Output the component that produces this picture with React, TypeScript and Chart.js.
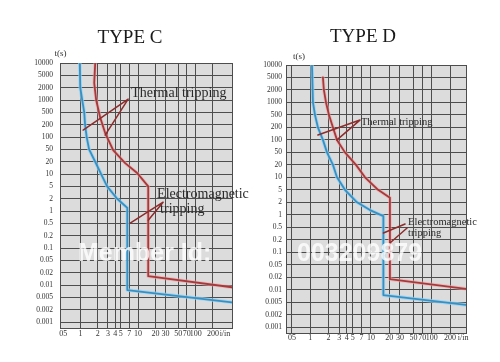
import React, { useEffect, useRef } from "react";
import { Chart, registerables } from "chart.js";

Chart.register(...registerables);

// ---- axis ticks ----
const T_TICKS = [10000, 5000, 2000, 1000, 500, 200, 100, 50, 20, 10, 5, 2, 1, 0.5, 0.2, 0.1, 0.05, 0.02, 0.01, 0.005, 0.002, 0.001];
const T_LABELS = ["10000", "5000", "2000", "1000", "500", "200", "100", "50", "20", "10", "5", "2", "1", "0.5", "0.2", "0.1", "0.05", "0.02", "0.01", "0.005", "0.002", "0.001"];
const I_TICKS = [0.5, 1, 2, 3, 4, 5, 7, 10, 20, 30, 50, 70, 100, 200];
const I_LABELS = ["05", "1", "2", "3", "4", "5", "7", "10", "20", "30", "50", "70", "100", "200"];
const UNIT_LABEL = "i/in";
const T_UNIT = "t(s)";

// ---- TYPE C (i/In, t seconds) ----
const cBlueI = [0.97, 0.99, 1.07, 1.16, 1.2, 1.28, 1.41, 1.8, 2.28, 2.9, 4.33, 6.5, 6.5, 428];
const cBlueT = [10000, 2000, 1000, 500, 200, 100, 50, 20, 10, 5, 2, 1.2, 0.0076, 0.0035];
const cRedI = [1.8, 1.73, 1.87, 2.19, 2.68, 3.69, 5.96, 9.63, 12.2, 15, 15, 428];
const cRedT = [10000, 2830, 1000, 350, 125, 47, 18.5, 10.6, 7.1, 5, 0.0166, 0.0089];
const cThermLeaderI = [1.11, 6.72, 2.68];
const cThermLeaderT = [148, 1050, 112];
const cMagLeaderI = [7.28, 27.2, 15];
const cMagLeaderT = [0.507, 1.65, 0.6];

// ---- TYPE D ----
const dBlueI = [1.07, 1.11, 1.2, 1.34, 1.62, 1.89, 2.37, 2.76, 3.73, 5.89, 9.64, 16, 16, 366];
const dBlueT = [10000, 1000, 500, 200, 100, 50, 20, 10, 5, 2, 1.3, 0.93, 0.0074, 0.0041];
const dRedI = [1.62, 1.68, 1.82, 2.04, 2.37, 2.76, 3.73, 5.67, 7.98, 13.1, 20.5, 20.5, 366];
const dRedT = [5000, 2000, 1000, 500, 200, 100, 50, 20, 10, 5, 2.8, 0.018, 0.0105];
const dThermLeaderI = [1.34, 6.59, 2.76];
const dThermLeaderT = [131, 343, 100];
const dMagLeader1I = [36.4, 16];
const dMagLeader1T = [0.6, 0.328];
const dMagLeader2I = [39.3, 20.5];
const dMagLeader2T = [0.473, 0.167];

const THERMAL = "Thermal tripping";
const MAG1 = "Electromagnetic";
const MAG2 = "tripping";

const SERIF = "'Liberation Serif', 'Times New Roman', 'DejaVu Serif', serif";
const BLUE = "#3790c4";
const RED = "#a8383a";
const LEADER = "#8e2b2b";
const GRID = "#4d4d4d";
const PLOT_BG = "#dcdcdc";

function tToIdx(t: number): number {
  const T = T_TICKS;
  if (t >= T[0]) return -Math.log10(t / T[0]) / Math.log10(T[0] / T[1]);
  for (let i = 0; i < T.length - 1; i++) {
    if (t <= T[i] && t >= T[i + 1]) return i + Math.log10(T[i] / t) / Math.log10(T[i] / T[i + 1]);
  }
  const n = T.length - 1;
  return n + Math.log10(T[n] / t) / Math.log10(T[n - 1] / T[n]);
}

function pts(I: number[], T: number[]) {
  return I.map((v, k) => ({ x: v, y: tToIdx(T[k]) }));
}

interface Note { i: number; t: number; lines: { text: string; dx: number; dy: number }[]; size: number }
interface Spec {
  title: string;
  W: number; H: number;
  area: { left: number; right: number; top: number; bottom: number };
  xMin: number; xMax: number; unitAt: number; showHalf: boolean;
  yPad: number; xPad: number; tickSize: number;
  titleX: number; titleY: number; titleSize: number;
  tsX: number; tsY: number;
  blue: { x: number; y: number }[];
  red: { x: number; y: number }[];
  leaders: { x: number; y: number }[][];
  notes: Note[];
}

const specC: Spec = {
  title: "TYPE C", W: 270, H: 362,
  area: { left: 60, right: 232, top: 63, bottom: 328 },
  xMin: 0.44, xMax: 428, unitAt: 323, showHalf: false,
  yPad: 7, xPad: 1, tickSize: 7.5,
  titleX: 130, titleY: 43, titleSize: 19,
  tsX: 60.5, tsY: 56,
  blue: pts(cBlueI, cBlueT),
  red: pts(cRedI, cRedT),
  leaders: [pts(cThermLeaderI, cThermLeaderT), pts(cMagLeaderI, cMagLeaderT)],
  notes: [
    { i: cThermLeaderI[1], t: cThermLeaderT[1], size: 14, lines: [{ text: THERMAL, dx: 3, dy: -6 }] },
    { i: cMagLeaderI[1], t: cMagLeaderT[1], size: 14, lines: [{ text: MAG1, dx: -6, dy: -8 }, { text: MAG2, dx: -3, dy: 7 }] },
  ],
};

const specD: Spec = {
  title: "TYPE D", W: 250, H: 362,
  area: { left: 36, right: 216, top: 65, bottom: 333 },
  xMin: 0.4, xMax: 366, unitAt: 328, showHalf: true,
  yPad: 4, xPad: 0, tickSize: 7.5,
  titleX: 113, titleY: 42, titleSize: 19,
  tsX: 49, tsY: 59,
  blue: pts(dBlueI, dBlueT),
  red: pts(dRedI, dRedT),
  leaders: [pts(dThermLeaderI, dThermLeaderT), pts(dMagLeader1I, dMagLeader1T), pts(dMagLeader2I, dMagLeader2T)],
  notes: [
    { i: dThermLeaderI[1], t: dThermLeaderT[1], size: 10.5, lines: [{ text: THERMAL, dx: 1, dy: 2 }] },
    { i: dMagLeader1I[0], t: dMagLeader1T[0], size: 10.5, lines: [{ text: MAG1, dx: 3, dy: -2 }, { text: MAG2, dx: 3, dy: 9 }] },
  ],
};

const X_VALUES = (unitAt: number) => [...I_TICKS, unitAt];
const X_LABELS = [...I_LABELS, UNIT_LABEL];

function CurveChart({ spec, left }: { spec: Spec; left: number }) {
  const ref = useRef<HTMLCanvasElement | null>(null);
  useEffect(() => {
    if (!ref.current) return;
    const s = spec;
    const xv = X_VALUES(s.unitAt);
    const deco = {
      id: "deco",
      beforeDraw(chart: any) {
        const { ctx, chartArea: a } = chart;
        ctx.save();
        ctx.fillStyle = PLOT_BG;
        ctx.fillRect(a.left, a.top, a.right - a.left, a.bottom - a.top);
        ctx.restore();
      },
      beforeDatasetsDraw(chart: any) {
        const { ctx, chartArea: a } = chart;
        ctx.save();
        ctx.strokeStyle = GRID;
        ctx.lineWidth = 1;
        ctx.strokeRect(Math.round(a.left) + 0.5, Math.round(a.top) + 0.5, Math.round(a.right - a.left), Math.round(a.bottom - a.top));
        ctx.restore();
      },
      afterDraw(chart: any) {
        const { ctx } = chart;
        const xs = chart.scales.x, ys = chart.scales.y;
        ctx.save();
        ctx.fillStyle = "#1a1a1a";
        ctx.textAlign = "center";
        ctx.textBaseline = "alphabetic";
        ctx.font = `${s.titleSize}px ${SERIF}`;
        ctx.fillText(s.title, s.titleX, s.titleY);
        ctx.font = `9px ${SERIF}`;
        ctx.fillStyle = "#333";
        ctx.fillText(T_UNIT, s.tsX, s.tsY);
        ctx.textAlign = "left";
        ctx.textBaseline = "middle";
        ctx.fillStyle = "#2a2a2a";
        for (const n of s.notes) {
          const px = xs.getPixelForValue(n.i);
          const py = ys.getPixelForValue(tToIdx(n.t));
          ctx.font = `${n.size}px ${SERIF}`;
          for (const l of n.lines) ctx.fillText(l.text, px + l.dx, py + l.dy);
        }
        ctx.restore();
      },
    };
    const line = (data: any, color: string, width: number, order: number) => ({
      type: "line", data, borderColor: color, borderWidth: width, pointRadius: 0, fill: false, tension: 0,
      borderJoinStyle: "round", borderCapStyle: "round", order,
    });
    const chart = new Chart(ref.current, {
      type: "line",
      data: {
        datasets: [
          ...s.leaders.map((d) => line(d, LEADER, 1.5, 0)),
          line(s.blue, BLUE, 1.8, 1),
          line(s.red, RED, 1.8, 1),
          line(s.blue, "rgba(150,210,240,0.75)", 3.6, 5),
          line(s.red, "rgba(235,165,165,0.6)", 3.6, 5),
        ] as any,
      },
      options: {
        animation: false,
        responsive: false,
        maintainAspectRatio: false,
        events: [],
        parsing: false as any,
        layout: { padding: { left: 0, top: s.area.top, right: s.W - s.area.right, bottom: 0 } },
        plugins: { legend: { display: false }, tooltip: { enabled: false }, title: { display: false } },
        scales: {
          x: {
            type: "logarithmic",
            min: s.xMin,
            max: s.xMax,
            afterBuildTicks: (sc: any) => { sc.ticks = xv.map((v) => ({ value: v })); },
            afterFit: (sc: any) => { sc.height = s.H - s.area.bottom; },
            ticks: {
              autoSkip: false, maxRotation: 0, minRotation: 0, padding: s.xPad,
              color: "#333", font: { family: SERIF, size: 8 },
              callback: (_v: any, idx: number) => X_LABELS[idx],
            },
            grid: {
              drawTicks: false, lineWidth: 1,
              color: (c: any) => {
                const v = c.tick ? c.tick.value : null;
                if (v === s.unitAt) return "rgba(0,0,0,0)";
                if (v === 0.5 && !s.showHalf) return "rgba(0,0,0,0)";
                return GRID;
              },
            },
            border: { display: true, color: GRID },
          },
          y: {
            type: "linear",
            reverse: true,
            min: 0,
            max: 21.47,
            afterBuildTicks: (sc: any) => { sc.ticks = T_TICKS.map((_v, k) => ({ value: k })); },
            afterFit: (sc: any) => { sc.width = s.area.left; },
            ticks: {
              autoSkip: false, padding: s.yPad, color: "#333",
              font: { family: SERIF, size: s.tickSize },
              callback: (_v: any, idx: number) => T_LABELS[idx],
            },
            grid: { drawTicks: false, lineWidth: 1, color: GRID },
            border: { display: true, color: GRID },
          },
        },
      } as any,
      plugins: [deco],
    });
    return () => chart.destroy();
  }, [spec]);
  return (
    <canvas
      ref={ref}
      width={spec.W}
      height={spec.H}
      style={{ position: "absolute", left, top: 0, width: spec.W, height: spec.H }}
    />
  );
}

export default function App() {
  return (
    <div style={{ position: "fixed", left: 0, top: 0, width: 500, height: 362, background: "#fff", overflow: "hidden" }}>
      <CurveChart spec={specC} left={0} />
      <CurveChart spec={specD} left={250} />
      <div style={{ position: "absolute", left: 78, top: 238, font: `bold 25px 'Liberation Sans', Arial, sans-serif`, color: "rgba(255,255,255,0.8)", pointerEvents: "none", whiteSpace: "nowrap" }}>
        Member Id:
      </div>
      <div style={{ position: "absolute", left: 297, top: 238, font: `bold 25px 'Liberation Sans', Arial, sans-serif`, color: "rgba(255,255,255,0.8)", pointerEvents: "none", whiteSpace: "nowrap" }}>
        003209879
      </div>
    </div>
  );
}
